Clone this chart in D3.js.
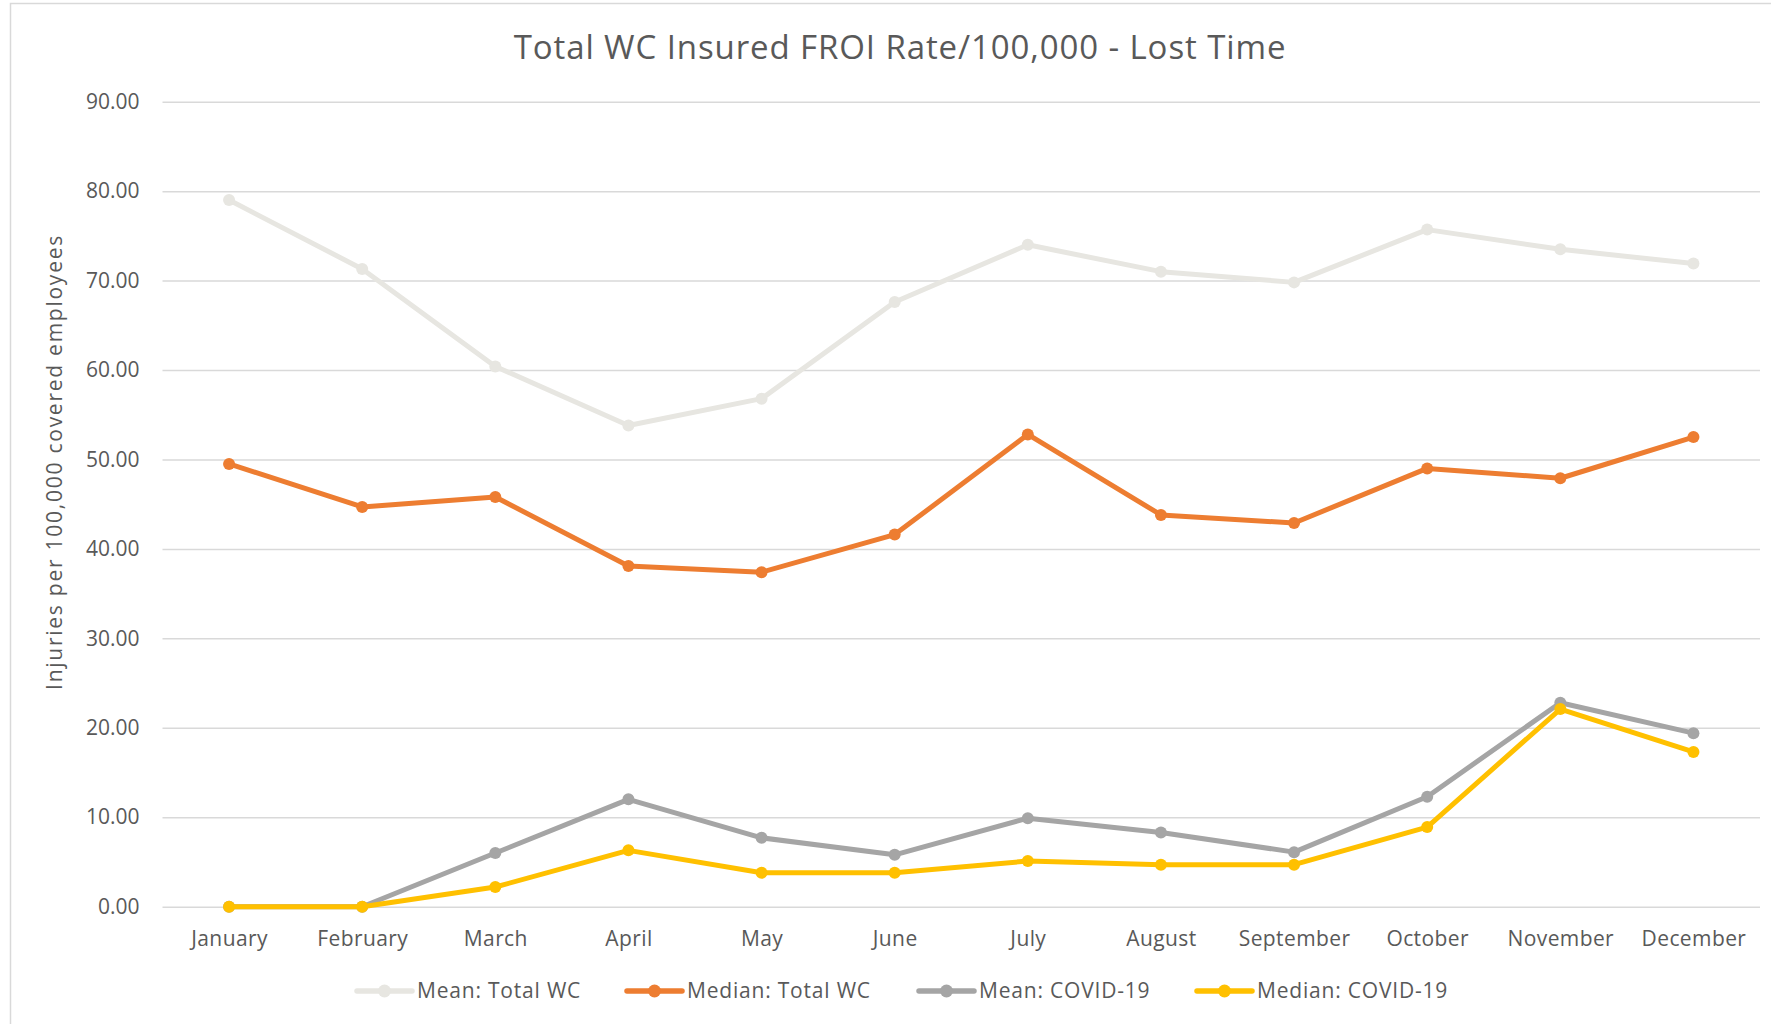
<!DOCTYPE html>
<html>
<head>
<meta charset="utf-8">
<script src="https://cdn.jsdelivr.net/npm/d3@7"></script>
<style>
  body { margin: 0; background: #fff; }
  text { font-family: "Open Sans", sans-serif; fill: #595959; }
</style>
</head>
<body>
<div id="chart"></div>
<script>
const width = 1771;
const height = 1024;

const months = ["January", "February", "March", "April", "May", "June", "July",
  "August", "September", "October", "November", "December"];
const yTicks = [0, 10, 20, 30, 40, 50, 60, 70, 80, 90];

const meanTotalWC = [79.0, 71.3, 60.4, 53.8, 56.8, 67.6, 74.0, 71.0, 69.8, 75.7, 73.5, 71.9];
const medianTotalWC = [49.5, 44.7, 45.8, 38.1, 37.4, 41.6, 52.8, 43.8, 42.9, 49.0, 47.9, 52.5];
const meanCovid = [0, 0, 6.0, 12.0, 7.7, 5.8, 9.9, 8.3, 6.1, 12.3, 22.8, 19.4];
const medianCovid = [0, 0, 2.2, 6.3, 3.8, 3.8, 5.1, 4.7, 4.7, 8.9, 22.1, 17.3];

const seriesNames = ["Mean: Total WC", "Median: Total WC", "Mean: COVID-19", "Median: COVID-19"];
const seriesColors = ["#E7E6E1", "#ED7D31", "#A5A5A5", "#FFC000"];
const series = [meanTotalWC, medianTotalWC, meanCovid, medianCovid].map((values, i) => ({
  name: seriesNames[i],
  color: seriesColors[i],
  values: values
}));

const plot = { left: 162.5, right: 1760, top: 101.7, bottom: 906.7 };

const svg = d3.select("#chart")
  .append("svg")
  .attr("width", width)
  .attr("height", height);

// chart frame (only top and left edges show in the screenshot)
svg.append("path")
  .attr("d", `M10.5,${height} V3.5 H${width}`)
  .attr("fill", "none")
  .attr("stroke", "#d9d9d9")
  .attr("stroke-width", 1.5);

const x = d3.scalePoint()
  .domain(months)
  .range([plot.left, plot.right])
  .padding(0.5);

const y = d3.scaleLinear()
  .domain([0, 90])
  .range([plot.bottom, plot.top]);

// y axis with gridlines
const yAxis = svg.append("g")
  .attr("transform", `translate(${plot.left},0)`)
  .call(d3.axisLeft(y)
    .tickValues(yTicks)
    .tickFormat(d3.format(".2f"))
    .tickSize(-(plot.right - plot.left))
    .tickPadding(23));
yAxis.select(".domain").remove();
yAxis.selectAll(".tick line")
  .attr("stroke", "#d9d9d9")
  .attr("stroke-width", 1.5);
yAxis.selectAll(".tick text")
  .style("font-size", "21px")
  .style("font-family", "'Open Sans', sans-serif")
  .attr("fill", "#595959");

// x axis labels
const xAxis = svg.append("g")
  .attr("transform", `translate(0,${plot.bottom})`)
  .call(d3.axisBottom(x).tickSize(0).tickPadding(24));
xAxis.select(".domain").remove();
xAxis.selectAll(".tick text")
  .style("font-size", "21px")
  .style("letter-spacing", "0.4px")
  .style("font-family", "'Open Sans', sans-serif")
  .attr("fill", "#595959");

// title
svg.append("text")
  .attr("x", 900)
  .attr("y", 59)
  .attr("text-anchor", "middle")
  .style("font-size", "33px")
  .style("letter-spacing", "0.9px")
  .text("Total WC Insured FROI Rate/100,000 - Lost Time");

// y axis title
svg.append("text")
  .attr("transform", "translate(62,462) rotate(-90)")
  .attr("text-anchor", "middle")
  .style("font-size", "21px")
  .style("letter-spacing", "1.75px")
  .text("Injuries per 100,000 covered employees");

// lines and markers
const line = d3.line()
  .x((d, i) => x(months[i]))
  .y(d => y(d));

const lines = svg.selectAll(".series")
  .data(series)
  .join("g")
  .attr("class", "series");

lines.append("path")
  .attr("d", d => line(d.values))
  .attr("fill", "none")
  .attr("stroke", d => d.color)
  .attr("stroke-width", 5)
  .attr("stroke-linejoin", "round");

lines.selectAll("circle")
  .data(d => d.values.map((v, i) => ({ v, i, color: d.color })))
  .join("circle")
  .attr("cx", d => x(months[d.i]))
  .attr("cy", d => y(d.v))
  .attr("r", 6)
  .attr("fill", d => d.color);

// legend
const legendX = [357, 627, 919, 1197];
const legendY = 991;

const legend = svg.selectAll(".legend")
  .data(series)
  .join("g")
  .attr("class", "legend")
  .attr("transform", (d, i) => `translate(${legendX[i]},${legendY})`);

legend.append("line")
  .attr("x1", 0)
  .attr("x2", 55)
  .attr("stroke", d => d.color)
  .attr("stroke-width", 5.5)
  .attr("stroke-linecap", "round");

legend.append("circle")
  .attr("cx", 27.5)
  .attr("r", 6.5)
  .attr("fill", d => d.color);

legend.append("text")
  .attr("x", 60)
  .attr("dy", "0.35em")
  .style("font-size", "21px")
  .style("letter-spacing", "0.8px")
  .text(d => d.name);
</script>
</body>
</html>
